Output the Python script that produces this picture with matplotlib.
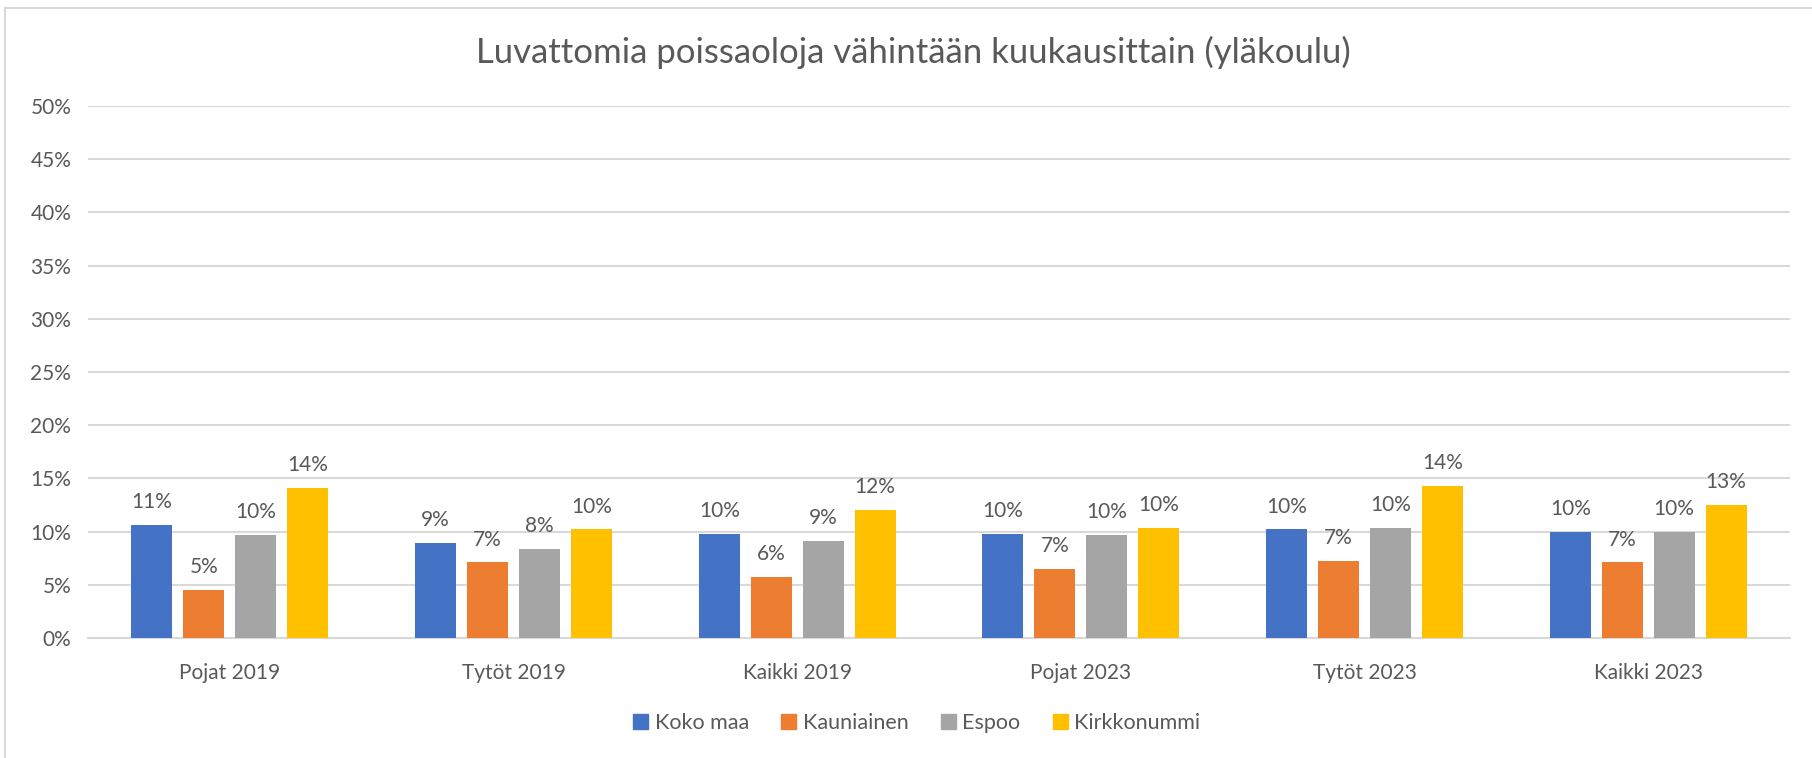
import matplotlib
matplotlib.use('Agg')
import matplotlib.pyplot as plt
import numpy as np
from matplotlib.lines import Line2D

plt.rcParams['font.family'] = ['Lato', 'DejaVu Sans']

title = 'Luvattomia poissaoloja vähintään kuukausittain (yläkoulu)'
categories = ['Pojat 2019', 'Tytöt 2019', 'Kaikki 2019', 'Pojat 2023', 'Tytöt 2023', 'Kaikki 2023']
series_names = ['Koko maa', 'Kauniainen', 'Espoo', 'Kirkkonummi']

# values in percent
koko_maa = [10.6, 8.9, 9.8, 9.8, 10.2, 10.0]
kauniainen = [4.5, 7.1, 5.7, 6.5, 7.2, 7.1]
espoo = [9.7, 8.4, 9.1, 9.7, 10.3, 10.0]
kirkkonummi = [14.1, 10.2, 12.0, 10.3, 14.3, 12.5]

colors = ['#4472C4', '#ED7D31', '#A5A5A5', '#FFC000']
text_color = '#595959'
grid_color = '#D9D9D9'

fig = plt.figure(figsize=(18.12, 7.58), dpi=100)
ax = fig.add_axes([88 / 1812, 1 - 638 / 758, (1790 - 88) / 1812, (638 - 106) / 758])

x = np.arange(len(categories))
bar_w = 0.1445
step = 0.183
all_series = [koko_maa, kauniainen, espoo, kirkkonummi]

for i, (name, vals) in enumerate(zip(series_names, all_series)):
    pos = x + (i - 1.5) * step
    ax.bar(pos, vals, width=bar_w, color=colors[i], label=name, zorder=3)
    for px, v in zip(pos, vals):
        ax.annotate(f'{int(v + 0.5)}%', (px, v), xytext=(0, 16.5), textcoords='offset points',
                    ha='center', va='center', fontsize=15, color=text_color)

ax.set_xlim(-0.5, len(categories) - 0.5)
ax.set_ylim(0, 50)
ax.set_yticks(np.arange(0, 51, 5))
ax.set_yticklabels([f'{t}%' for t in range(0, 51, 5)])
ax.set_xticks(x)
ax.set_xticklabels(categories)
ax.tick_params(axis='both', length=0, labelsize=15, labelcolor=text_color)
ax.tick_params(axis='x', pad=18)
ax.tick_params(axis='y', pad=12)
ax.grid(axis='y', color=grid_color, linewidth=1.5, zorder=0)
for s in ['top', 'right', 'left']:
    ax.spines[s].set_visible(False)
ax.spines['bottom'].set_color(grid_color)
ax.spines['bottom'].set_linewidth(1.5)

fig.text(0.504, 1 - 52 / 758, title, ha='center', va='center', fontsize=25, color=text_color)

handles = [plt.Rectangle((0, 0), 1, 1, color=c) for c in colors]
fig.legend(handles, series_names, loc='center', bbox_to_anchor=(0.506, 1 - 723 / 758), ncol=4,
           frameon=False, fontsize=15.5, labelcolor=text_color, handlelength=0.7, handleheight=0.7,
           handletextpad=0.3, columnspacing=1.5)

# chart border (only left and top edges are visible in the crop)
fig.add_artist(Line2D([5 / 1812, 5 / 1812], [0, 1 - 8 / 758], color=grid_color, linewidth=1.5))
fig.add_artist(Line2D([5 / 1812, 1], [1 - 8 / 758, 1 - 8 / 758], color=grid_color, linewidth=1.5))

fig.savefig('out.png', dpi=100)
